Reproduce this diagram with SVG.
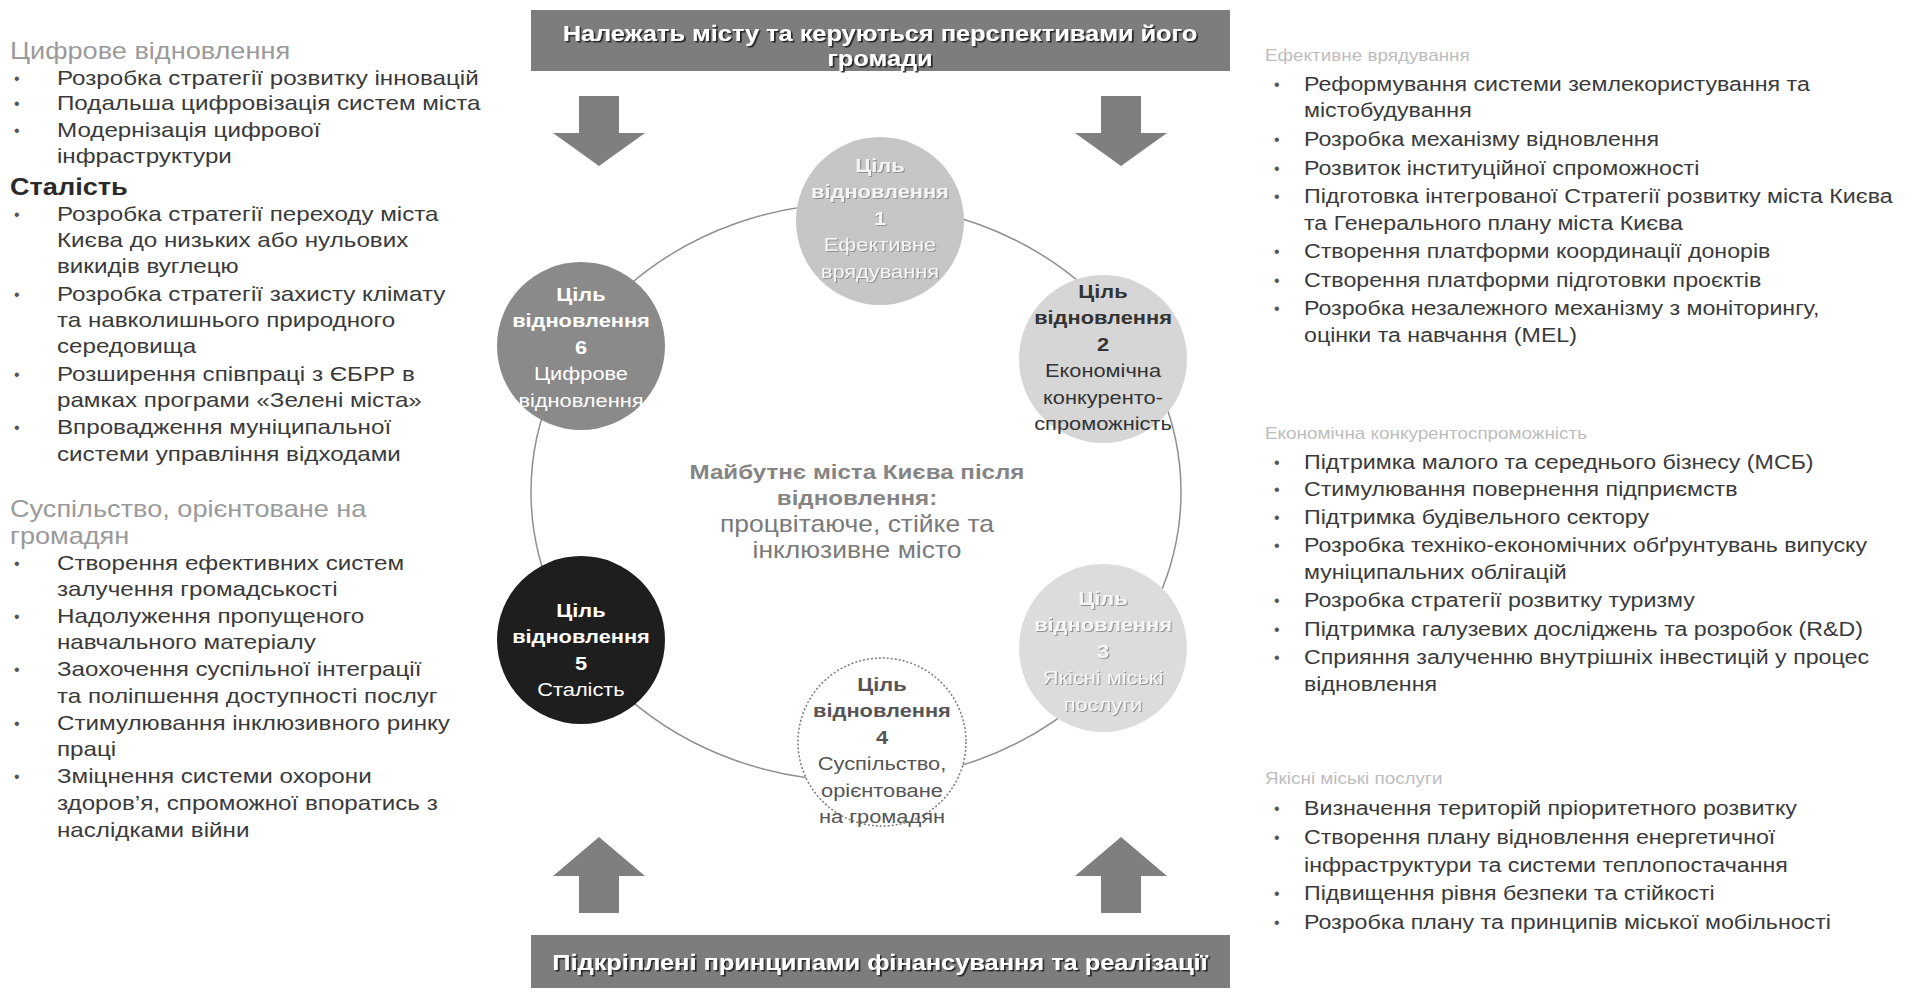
<svg xmlns="http://www.w3.org/2000/svg" width="1929" height="992" viewBox="0 0 1929 992">
<defs>
<style>
text{font-family:"Liberation Sans",Arial,sans-serif}
.body{font-size:20.5px;fill:#3a3a3a}
.rbody{font-size:20px;fill:#3a3a3a}
.bul{font-size:16px;fill:#555}
.hl{font-size:23px;fill:#9a9a9a}
.hb{font-size:23px;fill:#2a2a2a;font-weight:bold}
.hr{font-size:16px;fill:#bdbdbd}
.ban{font-size:21.5px;font-weight:bold;fill:#fff;text-anchor:middle}
.ct{font-size:18.5px;text-anchor:middle}
.b{font-weight:bold}
.cen{font-size:21px;text-anchor:middle;fill:#858585}
.cen2{font-size:23px;text-anchor:middle;fill:#7a7a7a}
.arrow{fill:#7f7f7f}
.banner{fill:#7d7d7d}
.ring{fill:none;stroke:#8f8f8f;stroke-width:1.5}
</style>
<filter id="sh" x="-5%" y="-20%" width="110%" height="150%">
<feDropShadow dx="1.5" dy="1.5" stdDeviation="0.6" flood-color="#1a1a1a" flood-opacity="0.9"/>
</filter>
<filter id="sh2" x="-5%" y="-20%" width="110%" height="150%">
<feDropShadow dx="1" dy="1" stdDeviation="0.5" flood-color="#8a8a8a" flood-opacity="0.9"/>
</filter>
</defs>
<rect width="1929" height="992" fill="#fff"/>

<g id="connectors">
<ellipse class="ring" cx="856" cy="492" rx="325" ry="289"/>
<polygon class="arrow" points="579,96 619,96 619,133 645,133 599,166 553,133 579,133"/>
<polygon class="arrow" points="1101,96 1141,96 1141,133 1167,133 1121,166 1075,133 1101,133"/>
<polygon class="arrow" points="599,837 645,876 619,876 619,913 579,913 579,876 553,876"/>
<polygon class="arrow" points="1121,837 1167,876 1141,876 1141,913 1101,913 1101,876 1075,876"/>
</g>

<g id="banner-top">
<rect class="banner" x="531" y="10" width="699" height="61"/>
<g transform="translate(880,0) scale(1.18,1) translate(-880,0)" filter="url(#sh)">
<text class="ban" x="880" y="41">Належать місту та керуються перспективами його</text>
<text class="ban" x="880" y="66">громади</text>
</g>
</g>

<g id="banner-bottom">
<rect class="banner" x="531" y="935" width="699" height="53"/>
<g transform="translate(880,0) scale(1.18,1) translate(-880,0)" filter="url(#sh)">
<text class="ban" x="880" y="970">Підкріплені принципами фінансування та реалізації</text>
</g>
</g>

<g id="goal1">
<circle cx="880" cy="221" r="84" fill="#c6c6c6"/>
<g transform="translate(880,0) scale(1.18,1) translate(-880,0)" fill="#f4f4f4" filter="url(#sh2)">
<text class="ct b" x="880" y="172">Ціль</text>
<text class="ct b" x="880" y="198.5">відновлення</text>
<text class="ct b" x="880" y="225">1</text>
<text class="ct" x="880" y="251.5">Ефективне</text>
<text class="ct" x="880" y="278">врядування</text>
</g>
</g>

<g id="goal2">
<circle cx="1103" cy="359" r="84" fill="#d6d6d6"/>
<g transform="translate(1103,0) scale(1.18,1) translate(-1103,0)" fill="#333">
<text class="ct b" x="1103" y="298">Ціль</text>
<text class="ct b" x="1103" y="324.5">відновлення</text>
<text class="ct b" x="1103" y="351">2</text>
<text class="ct" x="1103" y="377.5">Економічна</text>
<text class="ct" x="1103" y="404">конкуренто-</text>
<text class="ct" x="1103" y="430.5">спроможність</text>
</g>
</g>

<g id="goal3">
<circle cx="1103" cy="648" r="84" fill="#dcdcdc"/>
<g transform="translate(1103,0) scale(1.18,1) translate(-1103,0)" fill="#f6f6f6" filter="url(#sh2)">
<text class="ct b" x="1103" y="605">Ціль</text>
<text class="ct b" x="1103" y="631.5">відновлення</text>
<text class="ct b" x="1103" y="658">3</text>
<text class="ct" x="1103" y="684.5">Якісні міські</text>
<text class="ct" x="1103" y="711">послуги</text>
</g>
</g>

<g id="goal4">
<circle cx="882" cy="742" r="84" fill="#fff" stroke="#7a7a7a" stroke-width="1.5" stroke-dasharray="2 2"/>
<g transform="translate(882,0) scale(1.18,1) translate(-882,0)" fill="#555">
<text class="ct b" x="882" y="691">Ціль</text>
<text class="ct b" x="882" y="717.5">відновлення</text>
<text class="ct b" x="882" y="744">4</text>
<text class="ct" x="882" y="770.5">Суспільство,</text>
<text class="ct" x="882" y="797">орієнтоване</text>
<text class="ct" x="882" y="823.5">на громадян</text>
</g>
</g>

<g id="goal5">
<circle cx="581" cy="640" r="84" fill="#1e1e1e"/>
<g transform="translate(581,0) scale(1.18,1) translate(-581,0)" fill="#fff">
<text class="ct b" x="581" y="617">Ціль</text>
<text class="ct b" x="581" y="643.5">відновлення</text>
<text class="ct b" x="581" y="670">5</text>
<text class="ct" x="581" y="696.5">Сталість</text>
</g>
</g>

<g id="goal6">
<circle cx="581" cy="346" r="84" fill="#8a8a8a"/>
<g transform="translate(581,0) scale(1.18,1) translate(-581,0)" fill="#fff">
<text class="ct b" x="581" y="301">Ціль</text>
<text class="ct b" x="581" y="327.5">відновлення</text>
<text class="ct b" x="581" y="354">6</text>
<text class="ct" x="581" y="380.5">Цифрове</text>
<text class="ct" x="581" y="407">відновлення</text>
</g>
</g>

<g id="center-text" transform="translate(857,0) scale(1.15,1) translate(-857,0)">
<text class="cen b" x="857" y="479">Майбутнє міста Києва після</text>
<text class="cen b" x="857" y="505">відновлення:</text>
<text class="cen2" x="857" y="532">процвітаюче, стійке та</text>
<text class="cen2" x="857" y="558">інклюзивне місто</text>
</g>

<g id="left-column">
<g transform="translate(10,0) scale(1.18,1) translate(-10,0)">
<text class="hl" x="10" y="59">Цифрове відновлення</text>
<text class="hb" x="10" y="195">Сталість</text>
<text class="hl" x="10" y="517">Суспільство, орієнтоване на</text>
<text class="hl" x="10" y="544">громадян</text>
</g>
<g class="bul">
<text x="14" y="84">•</text><text x="14" y="109">•</text><text x="14" y="136">•</text>
<text x="14" y="220">•</text><text x="14" y="300">•</text><text x="14" y="380">•</text><text x="14" y="433">•</text>
<text x="14" y="569">•</text><text x="14" y="622">•</text><text x="14" y="675">•</text><text x="14" y="729">•</text><text x="14" y="782">•</text>
</g>
<g transform="translate(57,0) scale(1.18,1) translate(-57,0)" class="body">
<text x="57" y="85">Розробка стратегії розвитку інновацій</text>
<text x="57" y="110">Подальша цифровізація систем міста</text>
<text x="57" y="137">Модернізація цифрової</text>
<text x="57" y="163">інфраструктури</text>
<text x="57" y="221">Розробка стратегії переходу міста</text>
<text x="57" y="247">Києва до низьких або нульових</text>
<text x="57" y="273">викидів вуглецю</text>
<text x="57" y="301">Розробка стратегії захисту клімату</text>
<text x="57" y="327">та навколишнього природного</text>
<text x="57" y="353">середовища</text>
<text x="57" y="381">Розширення співпраці з ЄБРР в</text>
<text x="57" y="407">рамках програми «Зелені міста»</text>
<text x="57" y="434">Впровадження муніципальної</text>
<text x="57" y="461">системи управління відходами</text>
<text x="57" y="570">Створення ефективних систем</text>
<text x="57" y="596">залучення громадськості</text>
<text x="57" y="623">Надолуження пропущеного</text>
<text x="57" y="649">навчального матеріалу</text>
<text x="57" y="676">Заохочення суспільної інтеграції</text>
<text x="57" y="703">та поліпшення доступності послуг</text>
<text x="57" y="730">Стимулювання інклюзивного ринку</text>
<text x="57" y="756">праці</text>
<text x="57" y="783">Зміцнення системи охорони</text>
<text x="57" y="810">здоров’я, спроможної впоратись з</text>
<text x="57" y="837">наслідками війни</text>
</g>
</g>

<g id="right-column">
<g transform="translate(1265,0) scale(1.18,1) translate(-1265,0)">
<text class="hr" x="1265" y="61">Ефективне врядування</text>
<text class="hr" x="1265" y="439">Економічна конкурентоспроможність</text>
<text class="hr" x="1265" y="784">Якісні міські послуги</text>
</g>
<g class="bul">
<text x="1274" y="90">•</text><text x="1274" y="145">•</text><text x="1274" y="174">•</text><text x="1274" y="202">•</text>
<text x="1274" y="257">•</text><text x="1274" y="286">•</text><text x="1274" y="314">•</text>
<text x="1274" y="468">•</text><text x="1274" y="495">•</text><text x="1274" y="523">•</text><text x="1274" y="551">•</text>
<text x="1274" y="606">•</text><text x="1274" y="635">•</text><text x="1274" y="663">•</text>
<text x="1274" y="814">•</text><text x="1274" y="843">•</text><text x="1274" y="899">•</text><text x="1274" y="928">•</text>
</g>
<g transform="translate(1304,0) scale(1.16,1) translate(-1304,0)" class="rbody">
<text x="1304" y="91">Реформування системи землекористування та</text>
<text x="1304" y="117">містобудування</text>
<text x="1304" y="146">Розробка механізму відновлення</text>
<text x="1304" y="175">Розвиток інституційної спроможності</text>
<text x="1304" y="203">Підготовка інтегрованої Стратегії розвитку міста Києва</text>
<text x="1304" y="230">та Генерального плану міста Києва</text>
<text x="1304" y="258">Створення платформи координації донорів</text>
<text x="1304" y="287">Створення платформи підготовки проєктів</text>
<text x="1304" y="315">Розробка незалежного механізму з моніторингу,</text>
<text x="1304" y="342">оцінки та навчання (MEL)</text>
<text x="1304" y="469">Підтримка малого та середнього бізнесу (МСБ)</text>
<text x="1304" y="496">Стимулювання повернення підприємств</text>
<text x="1304" y="524">Підтримка будівельного сектору</text>
<text x="1304" y="552">Розробка техніко-економічних обґрунтувань випуску</text>
<text x="1304" y="579">муніципальних облігацій</text>
<text x="1304" y="607">Розробка стратегії розвитку туризму</text>
<text x="1304" y="636">Підтримка галузевих досліджень та розробок (R&amp;D)</text>
<text x="1304" y="664">Сприяння залученню внутрішніх інвестицій у процес</text>
<text x="1304" y="691">відновлення</text>
<text x="1304" y="815">Визначення територій пріоритетного розвитку</text>
<text x="1304" y="844">Створення плану відновлення енергетичної</text>
<text x="1304" y="872">інфраструктури та системи теплопостачання</text>
<text x="1304" y="900">Підвищення рівня безпеки та стійкості</text>
<text x="1304" y="929">Розробка плану та принципів міської мобільності</text>
</g>
</g>
</svg>
